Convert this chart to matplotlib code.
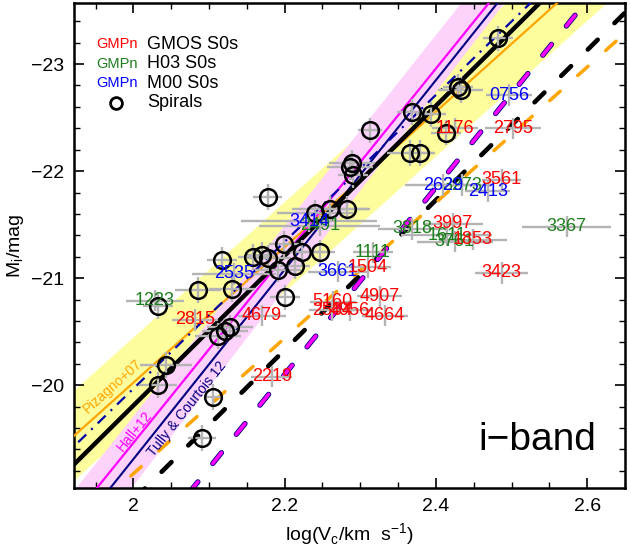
import matplotlib
matplotlib.use("Agg")
import matplotlib.pyplot as plt
import matplotlib.patheffects as pe
import numpy as np

plt.rcParams['font.family'] = ['Liberation Sans', 'DejaVu Sans']
plt.rcParams['mathtext.fontset'] = 'custom'
plt.rcParams['mathtext.rm'] = 'Liberation Sans'
plt.rcParams['lines.scale_dashes'] = False

# spirals: log Vc, M_i and errors
sp_logv = [2.4818, 2.4290, 2.4329, 2.3682, 2.3933, 2.4131, 2.3126, 2.3655, 2.3787,
           2.2888, 2.2862, 2.2901, 2.1778, 2.2399, 2.2597, 2.2822, 2.1990, 2.2227,
           2.2465, 2.1170, 2.1580, 2.1698, 2.1778, 2.1910, 2.2135, 2.0853, 2.1302,
           2.2003, 2.0324, 2.1276, 2.1210, 2.1117, 2.0430, 2.0324, 2.1051, 2.0906]
sp_mag = [-23.24, -22.79, -22.76, -22.55, -22.53, -22.36, -22.38, -22.17, -22.17,
          -22.08, -22.04, -21.96, -21.76, -21.61, -21.65, -21.65, -21.32, -21.24,
          -21.24, -21.17, -21.20, -21.22, -21.19, -21.08, -21.11, -20.89, -20.90,
          -20.82, -20.74, -20.54, -20.51, -20.46, -20.19, -20.00, -19.89, -19.51]
sp_xerr = [0.02, 0.02, 0.03, 0.02, 0.02, 0.02, 0.016, 0.03, 0.02,
           0.03, 0.03, 0.02, 0.019, 0.05, 0.05, 0.03, 0.02, 0.03,
           0.02, 0.02, 0.02, 0.02, 0.03, 0.03, 0.02, 0.03, 0.03,
           0.02, 0.02, 0.03, 0.03, 0.03, 0.034, 0.025, 0.012, 0.018]
sp_yerr = 0.12

# S0 galaxies: ids, log Vc, M_i, x error
gmos_id = ['1176', '2795', '3561', '3997', '1853', '3423', '1504', '4907',
           '5160', '2584', '4956', '4664', '2815', '4679', '2219']
gmos_logv = [2.4250, 2.5017, 2.4871, 2.4223, 2.4487, 2.4871, 2.3100, 2.3258,
             2.2637, 2.2624, 2.2862, 2.3325, 2.0813, 2.1699, 2.1831]
gmos_mag = [-22.40, -22.40, -21.92, -21.51, -21.36, -21.05, -21.10, -20.83,
            -20.78, -20.70, -20.70, -20.65, -20.61, -20.65, -20.08]
gmos_xerr = [0.03, 0.037, 0.026, 0.04, 0.045, 0.035, 0.03, 0.03,
             0.03, 0.03, 0.03, 0.03, 0.03, 0.032, 0.027]

h03_id = ['1223', '2491', '1111', '3818', '1611', '3761', '3273', '3367']
h03_logv = [2.0284, 2.2465, 2.3166, 2.3682, 2.4144, 2.4250, 2.4342, 2.5730]
h03_mag = [-20.79, -21.49, -21.24, -21.46, -21.40, -21.34, -21.87, -21.48]
h03_xerr = [0.038, 0.08, 0.026, 0.045, 0.06, 0.05, 0.04, 0.059]

m00_id = ['0756', '2629', '2413', '3414', '2535', '3661']
m00_logv = [2.4964, 2.4091, 2.4686, 2.2320, 2.1329, 2.2703]
m00_mag = [-22.71, -21.87, -21.81, -21.53, -21.04, -21.06]
m00_xerr = [0.03, 0.05, 0.03, 0.09, 0.055, 0.04]

# relations M = zp + slope * (logV - 2.2)
fit_slope, fit_zp = -7.00, -21.21          # spirals, this work
fit2_slope, fit2_zp = -6.86, -21.34        # dash-dot
piz_slope, piz_zp, piz_rms = -6.33, -21.29, 0.42
hall_slope, hall_zp = -8.74, -21.21
tc_slope, tc_zp = -8.85, -21.08
pink_up_slope, pink_up_zp = -8.90, -21.49
pink_lo_slope, pink_lo_zp = -9.19, -20.90
fade_fit, fade_piz, fade_hall = 0.88, 0.85, 1.11


def rel(x, zp, slope):
    return zp + slope * (x - 2.2)


fig = plt.figure(figsize=(6.31, 5.5), dpi=100)
ax = fig.add_axes([0.1173, 0.1127, 0.8732, 0.8818])

xx = np.array([1.85, 2.75])
ax.fill_between(xx, rel(xx, piz_zp, piz_slope) - piz_rms, rel(xx, piz_zp, piz_slope) + piz_rms,
                color='#fdfd9e', lw=0, zorder=1)
ax.fill_between(xx, rel(xx, pink_up_zp, pink_up_slope), rel(xx, pink_lo_zp, pink_lo_slope),
                color='#fdd2fb', lw=0, zorder=1.1)

# faded relations
ax.plot(xx, rel(xx, hall_zp + fade_hall, hall_slope), color='magenta', lw=2.6,
        linestyle=(0, (10, 17)), dash_capstyle='round', zorder=2.1,
        path_effects=[pe.Stroke(linewidth=3.8, foreground='navy'), pe.Normal()])
ax.plot(xx, rel(xx, fit_zp + fade_fit, fit_slope), color='black', lw=3.3,
        linestyle=(0, (10, 17)), dash_capstyle='round', zorder=2)
ax.plot(xx, rel(xx, piz_zp + fade_piz, piz_slope), color='orange', lw=2.5,
        linestyle=(0, (10, 17)), dash_capstyle='round', zorder=2)

# relations
ax.plot(xx, rel(xx, piz_zp, piz_slope), color='orange', lw=1.6, zorder=3)
ax.plot(xx, rel(xx, hall_zp, hall_slope), color='magenta', lw=1.6, zorder=3)
ax.plot(xx, rel(xx, tc_zp, tc_slope), color='navy', lw=1.5, zorder=3)
ax.plot(xx, rel(xx, fit_zp, fit_slope), color='black', lw=3.2, zorder=3)
ax.plot(xx, rel(xx, fit2_zp, fit2_slope), color='#0000aa', lw=1.6,
        linestyle=(0, (8, 5, 1.5, 5)), zorder=3)

# error bars
ebar = dict(fmt='none', ecolor='#b4b4b4', elinewidth=1.7, capsize=0, zorder=4)
ax.errorbar(sp_logv, sp_mag, xerr=sp_xerr, yerr=sp_yerr, **ebar)
ax.errorbar(gmos_logv, gmos_mag, xerr=gmos_xerr, yerr=0.1, **ebar)
ax.errorbar(h03_logv, h03_mag, xerr=h03_xerr, yerr=0.1, **ebar)
ax.errorbar(m00_logv, m00_mag, xerr=m00_xerr, yerr=0.1, **ebar)

ax.plot(sp_logv, sp_mag, 'o', ms=12, mfc='none', mec='black', mew=1.8, zorder=5)

for ids, xs, ys, col in [(h03_id, h03_logv, h03_mag, '#1d7f1d'),
                         (m00_id, m00_logv, m00_mag, '#0000ff'),
                         (gmos_id, gmos_logv, gmos_mag, '#ff0000')]:
    for s, x, y in zip(ids, xs, ys):
        ax.text(x, y, s, color=col, fontsize=13, ha='center', va='center', zorder=6)

# line labels
ax.text(1.972, -19.99, 'Pizagno+07', color='orange', fontsize=10, rotation=41.8,
        ha='center', va='center', rotation_mode='anchor', zorder=6)
ax.text(2.002, -19.57, 'Hall+12', color='magenta', fontsize=10, rotation=51,
        ha='center', va='center', rotation_mode='anchor', zorder=6)
ax.text(2.071, -19.78, 'Tully & Courtois 12', color='navy', fontsize=10, rotation=51.4,
        ha='center', va='center', rotation_mode='anchor', zorder=6)

# legend by hand
leg_rows = [('GMPn', '#ff0000', 'GMOS S0s'), ('GMPn', '#1d7f1d', 'H03 S0s'),
            ('GMPn', '#0000ff', 'M00 S0s')]
for i, (tag, col, lab) in enumerate(leg_rows):
    yy = 0.9145 - i * 0.04
    ax.text(0.04, yy, tag, color=col, fontsize=10.5, transform=ax.transAxes, va='center', zorder=7)
    ax.text(0.133, yy, lab, color='black', fontsize=13, transform=ax.transAxes, va='center', zorder=7)
ax.plot([0.0762], [0.7945], 'o', ms=8.5, mfc='none', mec='black', mew=2, transform=ax.transAxes)
ax.text(0.133, 0.7945, 'Spirals', color='black', fontsize=13, transform=ax.transAxes,
        va='center', zorder=7)

ax.text(2.534, -19.49, 'i\u2212band', fontsize=28, ha='center', va='center', zorder=7)

ax.set_xlim(1.9215, 2.6495)
ax.set_ylim(-19.04, -23.57)
ax.set_xticks([2.0, 2.2, 2.4, 2.6])
ax.set_xticklabels(['2', '2.2', '2.4', '2.6'])
ax.set_yticks([-20, -21, -22, -23])
ax.set_yticklabels(['\u221220', '\u221221', '\u221222', '\u221223'])
ax.set_xticks(np.arange(1.95, 2.66, 0.05), minor=True)
ax.set_yticks(np.arange(-23.4, -19.0, 0.2), minor=True)
ax.tick_params(which='both', direction='in', top=True, right=True, labelsize=14)
ax.tick_params(which='major', length=7, width=1.2, pad=7)
ax.tick_params(which='minor', length=4, width=1.0)
for sp in ax.spines.values():
    sp.set_linewidth(1.8)

ax.set_xlabel(r'log(V$_\mathregular{c}$/km  s$^\mathregular{-1}$)', fontsize=14, labelpad=5)
ax.set_ylabel(r'M$_\mathregular{i}$/mag', fontsize=14, labelpad=4)

fig.savefig('out.png', dpi=100)
